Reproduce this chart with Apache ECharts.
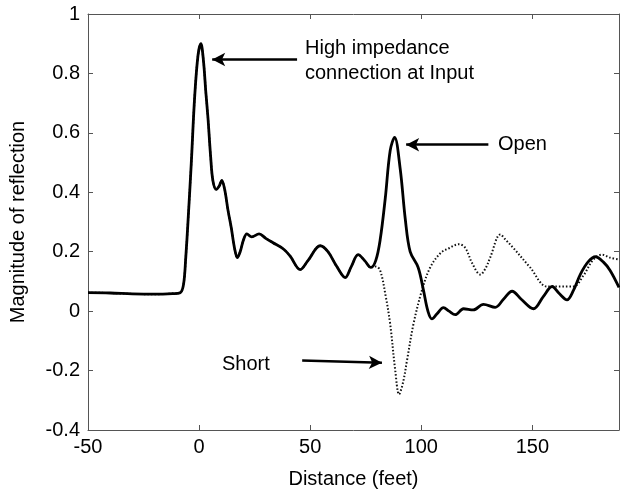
<!DOCTYPE html>
<html>
<head>
<meta charset="utf-8">
<script src="https://cdn.jsdelivr.net/npm/echarts@6/dist/echarts.min.js"></script>
<style>
html,body{margin:0;padding:0;background:#fff;}
#chart{width:620px;height:494px;}
</style>
</head>
<body>
<div id="chart"></div>
<script>
// Shared trace (both measurements overlap up to ~77 ft)
const commonTrace = [
  [-50,0.062],[-40,0.061],[-30,0.058],[-20,0.057],[-12,0.059],[-8.5,0.062],[-7,0.09],[-6,0.18],
  [-5,0.3],[-3.5,0.5],[-2,0.72],[-0.5,0.86],[0.8,0.90],[2,0.84],[3,0.74],[4,0.65],[5.2,0.52],
  [6.2,0.44],[7.7,0.41],[9,0.42],[10.2,0.44],[11.5,0.41],[13,0.34],[14.5,0.28],[16,0.21],
  [17.2,0.18],[18.5,0.20],[20,0.24],[21.5,0.26],[23.7,0.25],[27,0.26],[30,0.245],[33.3,0.23],
  [37.8,0.21],[41,0.185],[45.5,0.14],[49,0.17],[54.5,0.22],[58,0.2],[62,0.15],[65.8,0.113],
  [68.5,0.15],[71.6,0.19],[74.5,0.17],[77.3,0.147]
];
// "Open" termination (solid) after the split
const openTail = [
  [79.5,0.17],[81.5,0.24],[83.8,0.38],[86,0.54],[88,0.585],[90.5,0.48],[92.8,0.31],[95,0.20],
  [98.6,0.147],[101,0.07],[103,0.0],[104.8,-0.026],[107,-0.01],[110,0.012],[112.5,0.0],
  [115.3,-0.012],[119,0.008],[123.4,0.004],[128,0.023],[133.3,0.013],[137,0.04],[140.9,0.067],
  [145,0.04],[150.5,0.008],[155,0.05],[158.9,0.083],[162,0.06],[165.6,0.038],[168.5,0.07],
  [171.6,0.124],[175,0.165],[178.4,0.183],[182,0.165],[185,0.137],[189,0.08]
];
// "Short" termination (dotted) after the split
const shortTail = [
  [79.5,0.15],[81.5,0.137],[84,0.05],[86,-0.043],[88.3,-0.2],[90,-0.28],[91.8,-0.24],
  [93.6,-0.165],[96.5,-0.043],[100.3,0.07],[104,0.147],[108.6,0.195],[112,0.21],[117,0.225],
  [119.8,0.213],[123,0.16],[126.6,0.123],[129,0.145],[131,0.18],[135.6,0.258],[138,0.24],
  [141.4,0.213],[149,0.147],[156.6,0.083],[162,0.083],[168.5,0.083],[173,0.12],[177.5,0.174],
  [181.4,0.19],[185,0.18],[189,0.174]
];
const xTicks = [-50, 0, 50, 100, 150];
const yTicks = [-0.4, -0.2, 0, 0.2, 0.4, 0.6, 0.8, 1];

const openData = commonTrace.concat(openTail);
const shortData = commonTrace.concat(shortTail);

const FONT = 'Liberation Sans, Arial, sans-serif';
const axisLineStyle = {color:'#555', width:1};

const chart = echarts.init(document.getElementById('chart'), null, {renderer:'canvas'});
const option = {
  animation:false,
  backgroundColor:'#fff',
  grid:{left:88, right:1, top:14, bottom:60},
  xAxis:[{
    type:'value', min:-50, max:189, interval:50, position:'bottom',
    name:'Distance (feet)', nameLocation:'middle', nameGap:39,
    nameTextStyle:{fontFamily:FONT, fontSize:20, color:'#000'},
    axisLine:{onZero:false, lineStyle:axisLineStyle},
    axisTick:{inside:true, length:5, lineStyle:axisLineStyle},
    axisLabel:{fontFamily:FONT, fontSize:20, color:'#000', margin:7, showMaxLabel:false,
      formatter:v => xTicks.includes(v) ? String(v) : ''},
    splitLine:{show:false}
  },{
    type:'value', min:-50, max:189, interval:50, position:'top',
    axisLine:{onZero:false, lineStyle:axisLineStyle},
    axisTick:{inside:true, length:5, lineStyle:axisLineStyle},
    axisLabel:{show:false}, splitLine:{show:false}
  }],
  yAxis:[{
    type:'value', min:-0.4, max:1, interval:0.2, position:'left',
    name:'Magnitude of reflection', nameLocation:'middle', nameGap:60,
    nameTextStyle:{fontFamily:FONT, fontSize:20, color:'#000'},
    axisLine:{onZero:false, lineStyle:axisLineStyle},
    axisTick:{inside:true, length:5, lineStyle:axisLineStyle},
    axisLabel:{fontFamily:FONT, fontSize:20, color:'#000', margin:8,
      formatter:v => { const r = Math.round(v*10)/10; return yTicks.some(t=>Math.abs(t-r)<1e-9) ? String(r) : ''; }},
    splitLine:{show:false}
  },{
    type:'value', min:-0.4, max:1, interval:0.2, position:'right',
    axisLine:{onZero:false, lineStyle:axisLineStyle},
    axisTick:{inside:true, length:5, lineStyle:axisLineStyle},
    axisLabel:{show:false}, splitLine:{show:false}
  }],
  series:[
    {
      type:'line', name:'Short', data:shortData, smooth:0.35, showSymbol:false, symbol:'none',
      lineStyle:{color:'#111', width:2, type:[1.5,2]}, z:2
    },
    {
      type:'line', name:'Open', data:openData, smooth:0.35, showSymbol:false, symbol:'none',
      lineStyle:{color:'#000', width:2.8}, z:3,
      markLine:{
        silent:true, animation:false,
        symbol:['none','arrow'], symbolSize:[10,13],
        lineStyle:{color:'#000', width:2.5, type:'solid'},
        label:{show:false},
        data:[
          [{coord:[44.1,0.847]},{coord:[5.9,0.847]}],
          [{coord:[130.2,0.56]},{coord:[93.2,0.56]}],
          [{coord:[46.4,-0.166]},{coord:[82.3,-0.174]}]
        ]
      }
    }
  ],
  graphic:[
    {type:'text', left:305, top:36, style:{text:'High impedance\nconnection at Input', font:'20px '+FONT, fill:'#000', lineHeight:25}},
    {type:'text', left:498, top:134, style:{text:'Open', font:'20px '+FONT, fill:'#000'}},
    {type:'text', left:222, top:354, style:{text:'Short', font:'20px '+FONT, fill:'#000'}}
  ]
};
chart.setOption(option);
</script>
</body>
</html>
